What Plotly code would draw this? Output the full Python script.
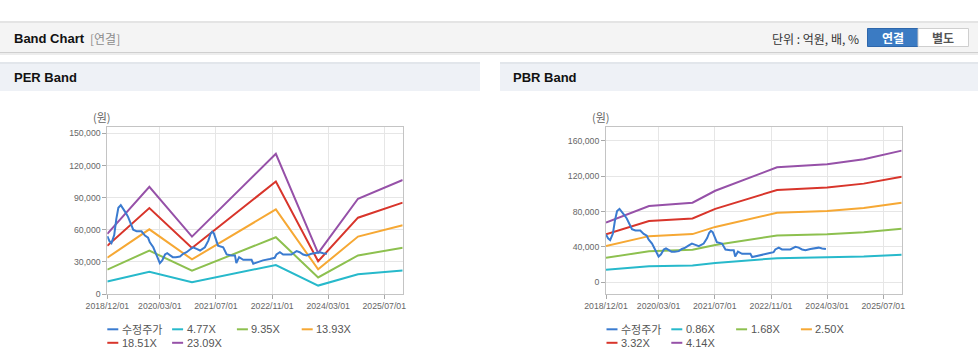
import plotly.graph_objects as go

W, H = 978, 361

# ---------------- data ----------------
price_dates = [
    "2018-12-01", "2018-12-19", "2019-01-06", "2019-01-30", "2019-02-17", "2019-03-07",
    "2019-03-28", "2019-04-18", "2019-05-09", "2019-05-30", "2019-06-23", "2019-07-14",
    "2019-08-13", "2019-09-24", "2019-10-24", "2019-11-20", "2019-12-05", "2020-01-04",
    "2020-01-28", "2020-02-15", "2020-03-01", "2020-03-22", "2020-04-15", "2020-05-04",
    "2020-05-28", "2020-06-21", "2020-07-18", "2020-08-23", "2020-09-19", "2020-10-19",
    "2020-11-18", "2020-12-15", "2021-01-14", "2021-02-13", "2021-03-27", "2021-04-26",
    "2021-05-14", "2021-05-29", "2021-06-13", "2021-07-07", "2021-07-19", "2021-09-02",
    "2021-10-02", "2021-11-13", "2021-12-13", "2021-12-25", "2022-01-18", "2022-02-23",
    "2022-04-06", "2022-05-06", "2022-05-21", "2022-06-17", "2022-08-13", "2022-10-12",
    "2022-11-23", "2022-12-08", "2023-01-07", "2023-02-04", "2023-03-06", "2023-04-17",
    "2023-06-01", "2023-06-28", "2023-07-28", "2023-08-27", "2023-10-08", "2023-11-19",
    "2023-12-19", "2024-01-18", "2024-02-20",
]
price_values = [
    54000, 49500, 47500, 55000, 70000, 80500,
    83000, 80000, 76000, 72000, 66000, 60000,
    58500, 58500, 54500, 52500, 48300, 43600,
    37500, 32900, 28900, 31400, 36900, 38100,
    36000, 34400, 34400, 35000, 37500, 39000,
    41500, 43600, 42100, 40600, 43600, 49800,
    55900, 58100, 56600, 49800, 45200, 43600,
    36900, 36000, 36000, 28900, 34400, 32000,
    32000, 32000, 28300, 29200, 31400, 32600,
    33800, 36900, 39000, 36900, 36900, 36900,
    40000, 39000, 36900, 36000, 37500, 38100,
    39000, 38100, 37500,
]

per_dates = ["2018-12-01", "2019-12-01", "2020-12-05", "2022-12-03",
             "2023-12-05", "2024-11-15", "2025-12-08"]
per_477 = [11590, 20680, 11070, 27050, 7870, 18360, 21990]
per_935 = [22720, 40530, 21690, 53010, 15430, 36000, 43100]
per_1393 = [33850, 60390, 32320, 78980, 22980, 53630, 64220]
per_1851 = [44980, 80240, 42940, 104950, 30540, 71260, 85330]
per_2309 = [56110, 100100, 53570, 130920, 38100, 88900, 106440]

pbr_dates = ["2018-12-01", "2019-12-09", "2020-12-20", "2021-07-05",
             "2022-12-23", "2024-03-01", "2025-01-13", "2025-12-08"]
pbr_086 = [14020, 17910, 18700, 21500, 27050, 27750, 28910, 30960]
pbr_168 = [27380, 34980, 36520, 42000, 52840, 54210, 56480, 60480]
pbr_250 = [40750, 52050, 54350, 62500, 78630, 80680, 84050, 90000]
pbr_332 = [54120, 69120, 72180, 83000, 104410, 107140, 111620, 119520]
pbr_414 = [67480, 86190, 90000, 103500, 130200, 133600, 139190, 149040]

per_labels = ["수정주가", "4.77X", "9.35X", "13.93X", "18.51X", "23.09X"]
pbr_labels = ["수정주가", "0.86X", "1.68X", "2.50X", "3.32X", "4.14X"]
series_colors = ["#3a7bd0", "#27b9cb", "#8dc04f", "#f6a834", "#d8352b", "#9651a8"]

x_tick_vals = ["2018-12-01", "2020-03-01", "2021-07-01", "2022-11-01", "2024-03-01", "2025-07-01"]
x_tick_text = ["2018/12/01", "2020/03/01", "2021/07/01", "2022/11/01", "2024/03/01", "2025/07/01"]
per_y_ticks = [0, 30000, 60000, 90000, 120000, 150000]
pbr_y_ticks = [0, 40000, 80000, 120000, 160000]

# ---------------- helpers ----------------
def fx(x):
    return x / W


def fy(y):
    return 1 - y / H


FONT = "Liberation Sans, Arial, Noto Sans CJK KR, sans-serif"
KFONT = "Noto Sans CJK KR, Liberation Sans, sans-serif"

fig = go.Figure()

per_series = [(price_dates, price_values)] + [
    (per_dates, v) for v in (per_477, per_935, per_1393, per_1851, per_2309)]
pbr_series = [(price_dates, price_values)] + [
    (pbr_dates, v) for v in (pbr_086, pbr_168, pbr_250, pbr_332, pbr_414)]

# draw bands first, price on top
order = [1, 2, 3, 4, 5, 0]
for i in order:
    d, v = per_series[i]
    fig.add_trace(go.Scatter(x=d, y=v, mode="lines", name=per_labels[i],
                             line=dict(color=series_colors[i], width=2),
                             xaxis="x", yaxis="y", showlegend=False))
for i in order:
    d, v = pbr_series[i]
    fig.add_trace(go.Scatter(x=d, y=v, mode="lines", name=pbr_labels[i],
                             line=dict(color=series_colors[i], width=2),
                             xaxis="x2", yaxis="y2", showlegend=False))

ydom = [fy(294), fy(126.7)]
axis_common = dict(
    showline=True, mirror=True, linecolor="#c4c4c4", linewidth=1,
    showgrid=True, gridcolor="#e6e6e6", gridwidth=1,
    ticks="outside", ticklen=4, tickcolor="#a8a8a8",
    tickfont=dict(family=FONT, size=8.7, color="#666"),
    zeroline=False, fixedrange=True, automargin=False,
)
x_range = ["2018-12-01", "2025-12-08"]

fig.update_layout(
    width=W, height=H,
    margin=dict(l=0, r=0, t=0, b=0, pad=0, autoexpand=False),
    paper_bgcolor="white", plot_bgcolor="white",
    showlegend=False,
    xaxis=dict(domain=[fx(107.3), fx(402.7)], anchor="y", type="date", range=x_range,
               tickvals=x_tick_vals, ticktext=x_tick_text, **axis_common),
    yaxis=dict(domain=ydom, anchor="x", range=[0, 156200], tickvals=per_y_ticks,
               tickformat=",d", **axis_common),
    xaxis2=dict(domain=[fx(606), fx(901.7)], anchor="y2", type="date", range=x_range,
                tickvals=x_tick_vals, ticktext=x_tick_text, **axis_common),
    yaxis2=dict(domain=ydom, anchor="x2", range=[-13600, 176200], tickvals=pbr_y_ticks,
                tickformat=",d", **axis_common),
)

shapes = []
annotations = []


def rect(x0, y0, x1, y1, fill, line=None, lw=0):
    shapes.append(dict(type="rect", xref="paper", yref="paper",
                       x0=fx(x0), x1=fx(x1), y0=fy(y1), y1=fy(y0),
                       fillcolor=fill, line=dict(color=line or fill, width=lw), layer="below"))


def text(x, y, s, size=12, color="#222", anchor="left", family=FONT):
    annotations.append(dict(xref="paper", yref="paper", x=fx(x), y=fy(y), text=s,
                            showarrow=False, xanchor=anchor, yanchor="middle",
                            font=dict(family=family, size=size, color=color)))


# top header bar
rect(0, 21, W, 23, "#e4e4e4")
rect(0, 23, W, 52, "#f4f4f4")
rect(0, 52, W, 53, "#cfcfcf")
rect(0, 53, W, 55, "#ededed")
text(12, 38, "<b>Band Chart</b>", 13, "#111")
text(88, 38, "[연결]", 12, "#8c8c8c", family=KFONT)
text(861, 38, "단위 : 억원, 배, %", 12, "#333", anchor="right", family=KFONT)
rect(867.5, 28.5, 918, 46.5, "#3b7bc3", "#2e67ab", 1)
rect(918, 28.5, 968.5, 46.5, "#ffffff", "#cfcfcf", 1)
text(892.7, 37.5, "<b>연결</b>", 12, "#ffffff", anchor="center", family=KFONT)
text(943.3, 37.5, "<b>별도</b>", 12, "#555", anchor="center", family=KFONT)

# panel headers
for x0, x1, title, tx in ((0, 480, "PER Band", 12), (500, W, "PBR Band", 510.5)):
    rect(x0, 62, x1, 64, "#e2e6eb")
    rect(x0, 64, x1, 91, "#eef1f6")
    text(tx, 78, "<b>%s</b>" % title, 13, "#111")

# unit labels
text(101.7, 116.7, "(원)", 11, "#666", anchor="center", family=KFONT)
text(601, 116.7, "(원)", 11, "#666", anchor="center", family=KFONT)

# legends (swatch + label), 4 per row
for left, labels in ((107.3, per_labels), (606.5, pbr_labels)):
    for i, lab in enumerate(labels):
        col, row = i % 4, i // 4
        x = left + col * 64.8
        y = 329.3 + row * 13.5
        shapes.append(dict(type="line", xref="paper", yref="paper",
                           x0=fx(x), x1=fx(x + 11), y0=fy(y), y1=fy(y),
                           line=dict(color=series_colors[i], width=2)))
        text(x + 12.5, y, lab, 11, "#555", family=FONT if i else KFONT)

fig.update_layout(shapes=shapes, annotations=annotations)
fig.write_html("out.html", config={"displayModeBar": False},
               post_script="document.body.style.margin='0';document.body.style.overflow='hidden';")
